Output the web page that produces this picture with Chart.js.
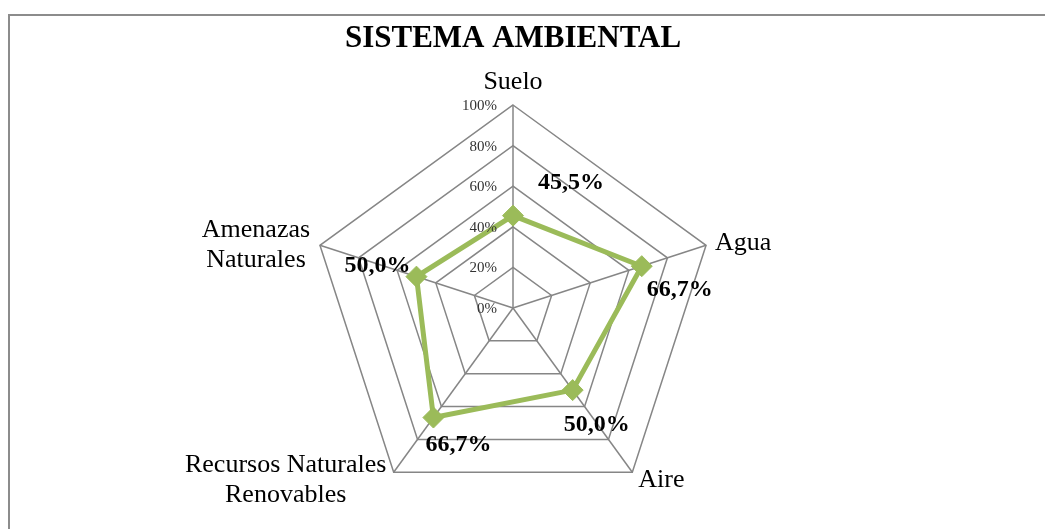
<!DOCTYPE html>
<html>
<head>
<meta charset="utf-8">
<script src="https://cdn.jsdelivr.net/npm/chart.js@4"></script>
<style>
  body { margin: 0; background: #fff; }
  canvas { display: block; }
</style>
</head>
<body>
<canvas id="radarChart" width="1045" height="529"></canvas>
<script>
// Data
const categories = ["Suelo", "Agua", "Aire", ["Recursos Naturales", "Renovables"], ["Amenazas", "Naturales"]];
const values = [45.5, 66.7, 50.0, 66.7, 50.0];
const tickLabels = ["0%", "20%", "40%", "60%", "80%", "100%"];
const tickValues = [0, 20, 40, 60, 80, 100];

const serif = "'Liberation Serif', 'Times New Roman', serif";

// where each category label sits relative to the outer vertex
const catPlacement = [
    { dx: 0, dy: -23, align: "center" },
    { dx: 9, dy: -2, align: "left" },
    { dx: 6, dy: 8, align: "left" },
    { dx: -108, dy: -7, align: "center" },
    { dx: -64, dy: -15, align: "center" }
];
// where each value label sits relative to its point
const valPlacement = [
    { dx: 58, dy: -33 },
    { dx: 38, dy: 24 },
    { dx: 24, dy: 35 },
    { dx: 25, dy: 27 },
    { dx: -39, dy: -11 }
];

function fmt(v) {
    return v.toFixed(1).replace(".", ",") + "%";
}

const decorPlugin = {
    id: "decor",
    afterDraw(chart) {
        const ctx = chart.ctx;
        const scale = chart.scales.r;
        ctx.save();

        // frame (top + left edge visible)
        ctx.strokeStyle = "#8c8c8c";
        ctx.lineWidth = 2;
        ctx.beginPath();
        ctx.moveTo(9, 529);
        ctx.lineTo(9, 15);
        ctx.lineTo(1045, 15);
        ctx.stroke();

        // title
        ctx.fillStyle = "#000";
        ctx.font = "bold 31px " + serif;
        ctx.textAlign = "center";
        ctx.textBaseline = "middle";
        ctx.fillText("SISTEMA AMBIENTAL", 513, 39);

        // tick labels, left of the vertical axis
        ctx.font = "15px " + serif;
        ctx.fillStyle = "#333";
        ctx.textAlign = "right";
        tickValues.forEach((v, i) => {
            const p = scale.getPointPositionForValue(0, v);
            ctx.fillText(tickLabels[i], p.x - 16, p.y + 1);
        });

        // category labels
        ctx.font = "26px " + serif;
        ctx.fillStyle = "#000";
        categories.forEach((c, i) => {
            const p = scale.getPointPosition(i, scale.drawingArea);
            const pl = catPlacement[i];
            const lines = Array.isArray(c) ? c : [c];
            ctx.textAlign = pl.align;
            lines.forEach((line, j) => {
                ctx.fillText(line, p.x + pl.dx, p.y + pl.dy + j * 30);
            });
        });

        // value labels
        ctx.font = "bold 24px " + serif;
        ctx.textAlign = "center";
        const meta = chart.getDatasetMeta(0);
        meta.data.forEach((pt, i) => {
            const pl = valPlacement[i];
            ctx.fillText(fmt(values[i]), pt.x + pl.dx, pt.y + pl.dy);
        });

        ctx.restore();
    }
};

const ctx = document.getElementById("radarChart").getContext("2d");
new Chart(ctx, {
    type: "radar",
    data: {
        labels: categories,
        datasets: [{
            data: values,
            borderColor: "#9bbb59",
            backgroundColor: "#9bbb59",
            borderWidth: 5,
            fill: false,
            pointStyle: "rectRot",
            pointRadius: 10.5,
            pointBorderWidth: 1,
            pointBackgroundColor: "#9bbb59",
            pointBorderColor: "#9bbb59",
            tension: 0
        }]
    },
    options: {
        responsive: false,
        animation: false,
        layout: { padding: { left: 310, right: 329, top: 105, bottom: 18 } },
        plugins: {
            legend: { display: false },
            title: { display: false },
            tooltip: { enabled: false }
        },
        scales: {
            r: {
                min: 0,
                max: 100,
                ticks: { stepSize: 20, display: false },
                pointLabels: { display: false },
                grid: { color: "#868686", lineWidth: 1.5 },
                angleLines: { color: "#868686", lineWidth: 1.5 }
            }
        }
    },
    plugins: [decorPlugin]
});
</script>
</body>
</html>
